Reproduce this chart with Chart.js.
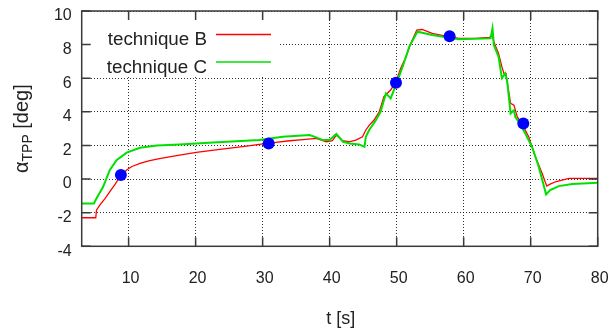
<!DOCTYPE html>
<html>
<head>
<meta charset="utf-8">
<script src="https://cdn.jsdelivr.net/npm/chart.js@4.4.1/dist/chart.umd.min.js"></script>
<style>
  html, body { margin: 0; padding: 0; background: #fff; }
  #c { display: block; }
</style>
</head>
<body>
<canvas id="c" width="611" height="335"></canvas>
<script>
/* values */
const X_TICKS = [10, 20, 30, 40, 50, 60, 70, 80];
const Y_TICKS = [-4, -2, 0, 2, 4, 6, 8, 10];

const T_B = [3, 5.1, 5.2, 5.7, 6.5, 7.2, 8, 8.7, 9.7, 10.5, 11.7, 13, 14.6, 17.6, 20.1, 23.6, 27.6, 29.5,
  32, 34, 36, 38, 39.5, 40.4, 41.0, 41.9, 42.9, 43.9, 44.9, 45.4, 45.9, 46.6, 47.4, 48.1, 49.1, 49.9,
  50.6, 51.4, 52.1, 53, 53.8, 55.3, 57.3, 59.3, 61.8, 63.8, 64.3, 64.5, 65.2, 65.7, 66, 66.3, 66.6,
  67, 67.5, 68, 68.7, 69.7, 70.7, 71.7, 72.4, 72.9, 73.7, 75.7, 80];
const V_B = [-2.3, -2.3, -1.85, -1.55, -1.15, -0.75, -0.3, 0.14, 0.54, 0.75, 0.93, 1.08, 1.22, 1.43, 1.59, 1.77, 1.96, 2.06,
  2.18, 2.28, 2.35, 2.42, 2.22, 2.28, 2.62, 2.28, 2.22, 2.32, 2.52, 2.92, 3.2, 3.5, 4.0, 4.9, 5.3, 5.8,
  6.6, 7.28, 8.07, 8.87, 8.9, 8.67, 8.51, 8.37, 8.37, 8.43, 8.51, 8.17, 7.48, 6.69, 6.29, 6.29, 5.5,
  4.5, 4.4, 3.7, 3.3, 2.52, 1.33, 0.34, -0.42, -0.3, -0.16, 0.04, 0.04];

const T_C = [3, 4.83, 5.2, 6.2, 7.2, 8.2, 9.7, 11.7, 14.2, 17.6, 22.6, 29.5, 33, 37, 38, 39, 40, 41, 42, 43,
  44.4, 45.2, 45.4, 45.9, 46.9, 47.6, 48.4, 49.1, 49.9, 50.9, 51.9, 53.1, 55.3, 59.3, 64, 64.3, 64.5,
  65.2, 65.7, 66.2, 66.5, 67, 67.5, 67.7, 68.7, 70.2, 71.2, 72.3, 72.9, 74.2, 76.2, 80];
const V_C = [-1.45, -1.45, -1.15, -0.46, 0.54, 1.13, 1.57, 1.86, 2.0, 2.06, 2.18, 2.32, 2.52, 2.62, 2.48, 2.32, 2.32, 2.68, 2.22, 2.12,
  2.06, 1.92, 2.52, 2.92, 3.5, 4.0, 5.1, 4.8, 5.6, 6.7, 7.9, 8.77, 8.57, 8.32, 8.37, 8.97, 7.98,
  7.28, 6.0, 6.29, 5.8, 3.9, 4.1, 3.7, 3.1, 1.92, 0.73, -0.91, -0.65, -0.42, -0.3, -0.22];

const T_DOT = [8.85, 30.9, 49.9, 57.9, 68.9];
const V_DOT = [0.24, 2.12, 5.73, 8.5, 3.3];

const LABEL_B = "technique B";
const LABEL_C = "technique C";
const FONT = "'Liberation Sans', Arial, sans-serif";
const INK = "#222";

const pts = (xs, ys) => xs.map((x, i) => ({ x, y: ys[i] }));

// drop the label-overhang padding chart.js adds, the frame is placed by hand
const noPad = (s) => { s.paddingLeft = 0; s.paddingRight = 0; s.paddingTop = 0; s.paddingBottom = 0; };

/* gnuplot-like frame: legend box, border, inward ticks, axis titles */
const frame = {
  id: "frame",
  afterDatasetsDraw(chart) {
    const { ctx, chartArea: a, scales } = chart;
    const sx = scales.x, sy = scales.y;
    ctx.save();

    // legend box (opaque)
    ctx.fillStyle = "#fff";
    ctx.fillRect(a.left + 1, a.top + 1, 278 - a.left, 76 - a.top);
    ctx.font = "18.8px " + FONT;
    ctx.fillStyle = INK;
    ctx.textAlign = "right";
    ctx.textBaseline = "alphabetic";
    ctx.fillText(LABEL_B, 207, 45);
    ctx.fillText(LABEL_C, 207, 72.5);
    ctx.lineWidth = 1.5;
    ctx.strokeStyle = "#ff0000";
    ctx.beginPath(); ctx.moveTo(216, 34.5); ctx.lineTo(271, 34.5); ctx.stroke();
    ctx.strokeStyle = "#00e000";
    ctx.beginPath(); ctx.moveTo(216, 62); ctx.lineTo(271, 62); ctx.stroke();

    // border
    ctx.strokeStyle = "#3a3a3a";
    ctx.lineWidth = 1.5;
    ctx.strokeRect(a.left, a.top, a.right - a.left, a.bottom - a.top);

    // inward ticks
    const TL = 9;
    ctx.beginPath();
    X_TICKS.forEach((v) => {
      const px = sx.getPixelForValue(v);
      ctx.moveTo(px, a.bottom); ctx.lineTo(px, a.bottom - TL);
      ctx.moveTo(px, a.top); ctx.lineTo(px, a.top + TL);
    });
    Y_TICKS.forEach((v) => {
      const py = sy.getPixelForValue(v);
      ctx.moveTo(a.left, py); ctx.lineTo(a.left + TL, py);
      ctx.moveTo(a.right, py); ctx.lineTo(a.right - TL, py);
    });
    ctx.stroke();

    // x title
    ctx.fillStyle = INK;
    ctx.textAlign = "center";
    ctx.textBaseline = "alphabetic";
    ctx.font = "18px " + FONT;
    ctx.fillText("t [s]", (a.left + a.right) / 2 + 1, 324);

    // y title with subscript
    const cy = (a.top + a.bottom) / 2;
    ctx.translate(28, cy);
    ctx.rotate(-Math.PI / 2);
    ctx.textAlign = "left";
    const big = "20px " + FONT, small = "14px " + FONT;
    ctx.font = big; const w1 = ctx.measureText("\u03b1").width;
    ctx.font = small; const w2 = ctx.measureText("TPP").width;
    ctx.font = big; const w3 = ctx.measureText(" [deg]").width;
    let x0 = -(w1 + w2 + w3) / 2;
    ctx.font = big; ctx.fillText("\u03b1", x0, 0); x0 += w1;
    ctx.font = small; ctx.fillText("TPP", x0, 4); x0 += w2;
    ctx.font = big; ctx.fillText(" [deg]", x0, 0);

    ctx.restore();
  }
};

new Chart(document.getElementById("c"), {
  type: "scatter",
  data: {
    datasets: [
      {
        data: pts(T_DOT, V_DOT),
        showLine: false,
        pointRadius: 6,
        pointHoverRadius: 6,
        backgroundColor: "#0000ff",
        borderWidth: 0
      },
      {
        label: LABEL_C,
        data: pts(T_C, V_C),
        showLine: true,
        borderColor: "#00e000",
        borderWidth: 2,
        pointRadius: 0,
        tension: 0
      },
      {
        label: LABEL_B,
        data: pts(T_B, V_B),
        showLine: true,
        borderColor: "#ff0000",
        borderWidth: 1.3,
        pointRadius: 0,
        tension: 0
      }
    ]
  },
  options: {
    responsive: false,
    animation: false,
    events: [],
    layout: { padding: { top: 11, right: 13.3, left: 0, bottom: 0 } },
    plugins: { legend: { display: false }, tooltip: { enabled: false } },
    scales: {
      x: {
        type: "linear",
        min: 3,
        max: 80,
        afterBuildTicks: (s) => { s.ticks = X_TICKS.map((v) => ({ value: v })); },
        afterFit: (s) => { s.height = 335 - 246.3; noPad(s); },
        grid: { color: "rgba(0,0,0,0.8)", lineWidth: 1, drawTicks: false },
        border: { display: false, dash: [1, 2] },
        ticks: { color: INK, padding: 23, labelOffset: 2, font: { family: FONT, size: 16 }, maxRotation: 0 }
      },
      y: {
        min: -4,
        max: 10,
        afterBuildTicks: (s) => { s.ticks = Y_TICKS.map((v) => ({ value: v })); },
        afterFit: (s) => { s.width = 81.7; noPad(s); },
        grid: { color: "rgba(0,0,0,0.8)", lineWidth: 1, drawTicks: false },
        border: { display: false, dash: [1, 2] },
        ticks: { color: INK, padding: 10, labelOffset: 5, font: { family: FONT, size: 16 } }
      }
    }
  },
  plugins: [frame]
});
</script>
</body>
</html>
